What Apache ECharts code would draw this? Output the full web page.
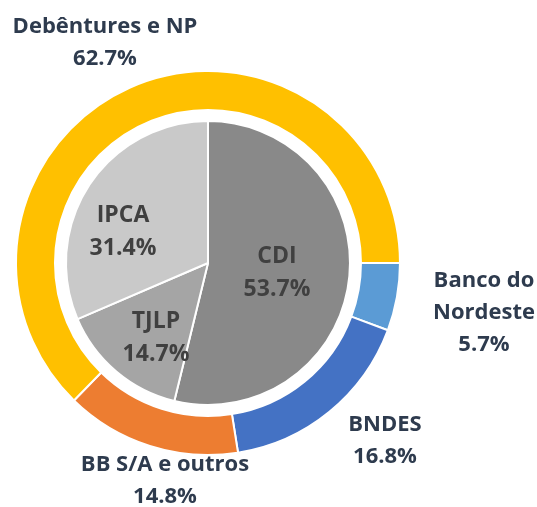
<!DOCTYPE html>
<html>
<head>
<meta charset="utf-8">
<script src="https://cdn.jsdelivr.net/npm/echarts@6/dist/echarts.min.js"></script>
<style>
html,body{margin:0;padding:0;background:#fff;}
#chart{width:537px;height:507px;}
</style>
</head>
<body>
<div id="chart"></div>
<script>
// Outer ring (clockwise from 3 o'clock)
const outerCategories = ['Banco do\nNordeste', 'BNDES', 'BB S/A e outros', 'Debêntures e NP'];
const outerValues = [5.7, 16.8, 14.8, 62.7];
const outerColors = ['#5B9BD5', '#4472C4', '#ED7D31', '#FFC000'];

// Inner pie (clockwise from 12 o'clock)
const innerCategories = ['CDI', 'TJLP', 'IPCA'];
const innerValues = [53.7, 14.7, 31.4];
const innerColors = ['#898989', '#A5A5A5', '#C9C9C9'];

// Label placement (offsets from pie centre, px)
const outerLabelOffsets = [[276, 50], [177, 178], [-43, 218], [-103, -220]];
const innerLabelOffsets = [[69, 10], [-52, 75], [-85, -31]];

const centerPct = [38.73, 51.87];

const chart = echarts.init(document.getElementById('chart'));
const W = chart.getWidth(), H = chart.getHeight();
const cx = W * centerPct[0] / 100, cy = H * centerPct[1] / 100;

const fontFamily = '"Open Sans", "Noto Sans", sans-serif';

function fmt(p) { return p.name + '\n' + p.value.toFixed(1) + '%'; }

chart.setOption({
  animation: false,
  backgroundColor: '#ffffff',
  series: [
    {
      type: 'pie',
      center: [centerPct[0] + '%', centerPct[1] + '%'],
      radius: [153, 192],
      startAngle: 0,
      clockwise: true,
      avoidLabelOverlap: false,
      itemStyle: { borderColor: '#ffffff', borderWidth: 2 },
      label: {
        show: true,
        position: 'outside',
        formatter: fmt,
        color: '#2E3B4E',
        fontFamily: fontFamily,
        fontWeight: 'bold',
        fontSize: 22,
        lineHeight: 32,
        align: 'center'
      },
      labelLine: { show: false },
      labelLayout: function (p) {
        const o = outerLabelOffsets[p.dataIndex];
        return { x: cx + o[0], y: cy + o[1], align: 'center', verticalAlign: 'middle' };
      },
      emphasis: { disabled: true },
      data: outerCategories.map((n, i) => ({ name: n, value: outerValues[i], itemStyle: { color: outerColors[i] } }))
    },
    {
      type: 'pie',
      center: [centerPct[0] + '%', centerPct[1] + '%'],
      radius: [0, 142],
      startAngle: 90,
      clockwise: true,
      avoidLabelOverlap: false,
      itemStyle: { borderColor: '#ffffff', borderWidth: 2 },
      label: {
        show: true,
        position: 'inside',
        formatter: fmt,
        color: '#404040',
        fontFamily: fontFamily,
        fontWeight: 'bold',
        fontSize: 23,
        lineHeight: 33,
        align: 'center'
      },
      labelLine: { show: false },
      labelLayout: function (p) {
        const o = innerLabelOffsets[p.dataIndex];
        return { x: cx + o[0], y: cy + o[1], align: 'center', verticalAlign: 'middle' };
      },
      emphasis: { disabled: true },
      data: innerCategories.map((n, i) => ({ name: n, value: innerValues[i], itemStyle: { color: innerColors[i] } }))
    }
  ]
});
</script>
</body>
</html>
